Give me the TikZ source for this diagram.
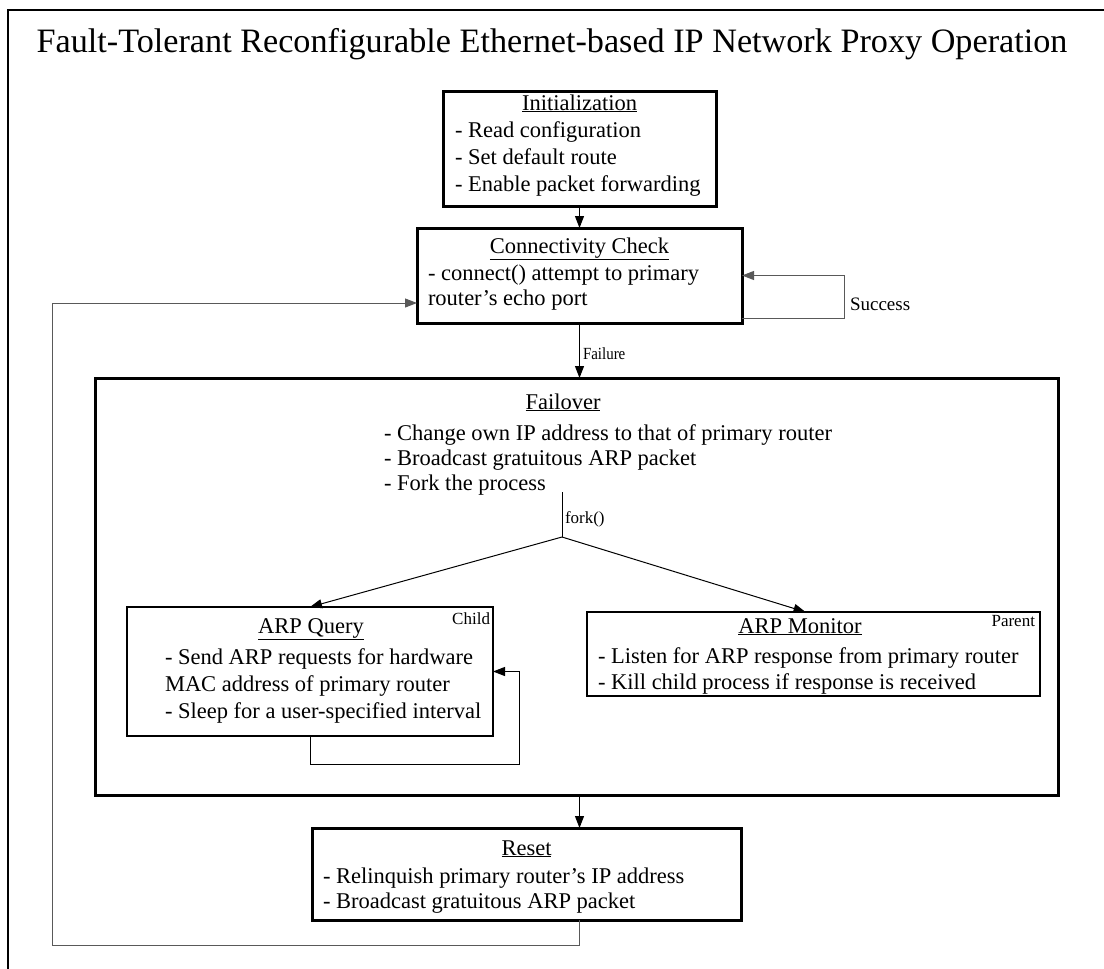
\documentclass[tikz,border=0pt]{standalone}
\usepackage{fontspec}
\setmainfont{Liberation Serif}
\usetikzlibrary{arrows.meta}
% left-aligned block of lines, baseline on the first line
\newcommand{\itemrows}[1]{\begin{tabular}[t]{@{}l@{}}#1\end{tabular}}
\begin{document}
\begin{tikzpicture}[x=1pt,y=-1pt,
  every node/.style={inner sep=0pt, outer sep=0pt},
  thickbox/.style={draw, line width=3pt},
  thinbox/.style={draw, line width=1.2pt},
  head/.style={font=\fontsize{22.5}{27}\selectfont, anchor=base},
  body/.style={font=\fontsize{22.5}{#1}\selectfont, anchor=base west},
  body/.default=25,
  tag/.style={font=\fontsize{17}{20}\selectfont},
  arr/.style={-{Triangle[length=12pt,width=9pt]}, line width=1pt},
  loopline/.style={line width=1.4pt, draw=black!65}]
\useasboundingbox (0,0) rectangle (1104,969);
\clip (0,0) rectangle (1104,969);

% outer frame
\draw[line width=2.5pt] (8,990) -- (8,10) -- (1130,10);

\node[font=\fontsize{34.2}{40}\selectfont, anchor=base] (title) at (552,52)
  {Fault-Tolerant Reconfigurable Ethernet-based IP Network Proxy Operation};

% Initialization
\node[thickbox, minimum width=273, minimum height=115] (init) at (579.5,148.5) {};
\node[head] (initT) at (579.5,110) {\underline{Initialization}};
\node[body=27] (initL) at (455,137)
  {\itemrows{- Read configuration\\- Set default route\\- Enable packet forwarding}};

% Connectivity check
\node[thickbox, minimum width=325, minimum height=95] (conn) at (579.5,275.5) {};
\node[head] (connT) at (579.5,253) {\underline{Connectivity Check}};
\node[body] (connL) at (428,280)
  {\itemrows{- connect() attempt to primary\\router’s echo port}};

% Failover
\node[thickbox, minimum width=963, minimum height=417] (failover) at (576.5,586.5) {};
\node[head] (failT) at (563,409) {\underline{Failover}};
\node[body] (failL) at (384,440)
  {\itemrows{- Change own IP address to that of primary router\\- Broadcast gratuitous ARP packet\\- Fork the process}};

% ARP query (child)
\node[thinbox, minimum width=366, minimum height=129] (query) at (310,671.5) {};
\node[head] (queryT) at (311,633) {\underline{ARP Query}};
\node[body=27] (queryL) at (165,664)
  {\itemrows{- Send ARP requests for hardware\\MAC address of primary router\\- Sleep for a user-specified interval}};
\node[tag, anchor=base east] (child) at (490,624) {Child};

% ARP monitor (parent)
\node[thinbox, minimum width=453, minimum height=84] (monitor) at (813.5,654) {};
\node[head] (monT) at (800,633) {\underline{ARP Monitor}};
\node[body=26] (monL) at (598,663)
  {\itemrows{- Listen for ARP response from primary router\\- Kill child process if response is received}};
\node[tag, anchor=base east] (parent) at (1035,626) {Parent};

% Reset
\node[thickbox, minimum width=429, minimum height=92] (reset) at (526.5,874) {};
\node[head] (resetT) at (526.5,855) {\underline{Reset}};
\node[body] (resetL) at (323,883)
  {\itemrows{- Relinquish primary router’s IP address\\- Broadcast gratuitous ARP packet}};

% fork
\coordinate (forkTop) at (562,492);
\coordinate (fork) at (562,537);
\draw[line width=1pt] (forkTop) -- (fork);
\node[tag, anchor=base west] (forkL) at (565,523) {fork()};
\draw[arr] (fork) -- (query.north);
\draw[arr] (fork) -- ([xshift=-8pt]monitor.north);

% main flow
\draw[arr] (init.south) -- (conn.north);
\draw[arr] (conn.south) -- (conn.south |- failover.north);
\node[tag, anchor=base west, xscale=0.88] (failLbl) at (583,359) {Failure};
\draw[arr] (failover.south -| conn.south) -- (reset.north -| conn.south);

% success loop
\coordinate (sl) at (844,318);
\draw[loopline, arr] ([yshift=-42.5pt]conn.east) -- (sl) |- (conn.east);
\node[font=\fontsize{19}{22}\selectfont, anchor=base west] (succ) at (850,310) {Success};

% child loop
\coordinate (ql) at (519,764);
\draw[arr] (query.south) |- (ql) |- (query.east);

% reset loop back to connectivity check
\coordinate (rl) at (52,945);
\draw[loopline, arr] (reset.south -| conn.south) |- (rl) |- ([yshift=-27.5pt]conn.west);
\end{tikzpicture}
\end{document}
